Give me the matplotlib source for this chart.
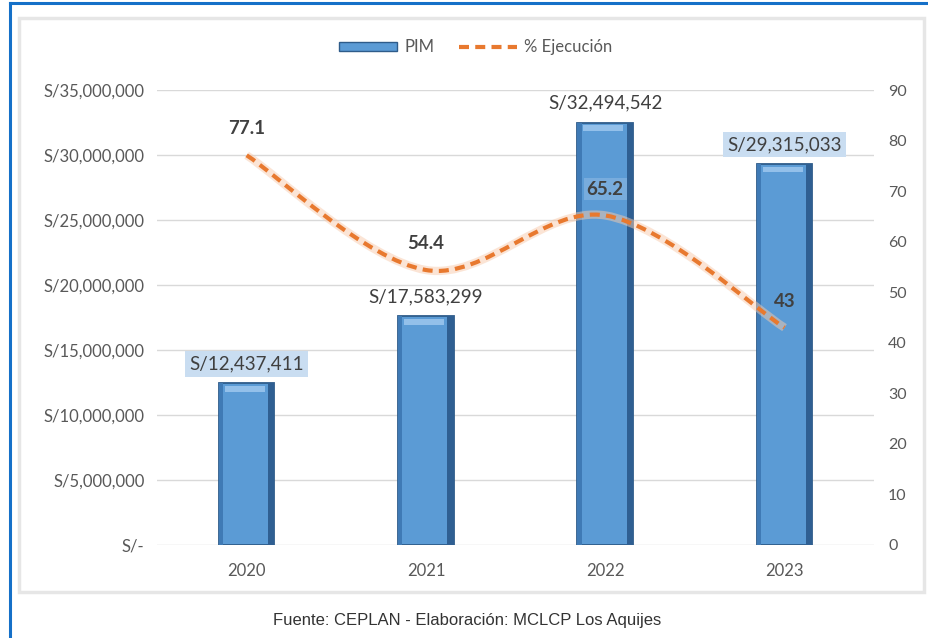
import numpy as np
import matplotlib
matplotlib.use('Agg')
import matplotlib.pyplot as plt
from matplotlib.path import Path
from matplotlib.patches import PathPatch, Rectangle, Patch
from matplotlib.lines import Line2D
from matplotlib.ticker import FuncFormatter

# datos
years = ['2020', '2021', '2022', '2023']
pim = [12437411, 17583299, 32494542, 29315033]
ejecucion = [77.1, 54.4, 65.2, 43]
pim_box = [True, False, False, True]   # etiquetas con fondo celeste

plt.rcParams['font.family'] = ['Lato', 'DejaVu Sans']

fig = plt.figure(figsize=(9.29, 6.38), dpi=100)
fig.patch.set_facecolor('white')

# marco azul (izquierda y arriba) y marco gris del grafico
fig.add_artist(Line2D([0.0113, 0.0113], [0, 0.996], transform=fig.transFigure, color='#1570C8', lw=2.2))
fig.add_artist(Line2D([0.0113, 1], [0.996, 0.996], transform=fig.transFigure, color='#1570C8', lw=2.2))
fig.add_artist(Rectangle((0.020, 0.072), 0.975, 0.900, transform=fig.transFigure,
                         facecolor='none', edgecolor='#E6E6E6', lw=2.5))

ax = fig.add_axes([0.169, 0.1458, 0.772, 0.713])
ax2 = ax.twinx()
ax.set_zorder(1)
ax2.set_zorder(2)
ax.patch.set_visible(False)
ax2.patch.set_visible(False)

x = np.arange(len(years))
w = 0.31
ax.bar(x, pim, width=w, color='#5B9BD5', edgecolor='#2E5C8A', linewidth=1.3, zorder=3)
# bisel: borde derecho oscuro, izquierdo un poco oscuro y brillo arriba
ax.bar(x + w/2 - 0.018, pim, width=0.036, color='#2F5F92', linewidth=0, zorder=3.1)
ax.bar(x - w/2 + 0.012, pim, width=0.024, color='#3F7AB5', linewidth=0, zorder=3.1)
ax.bar(x - 0.01, [450000]*4, bottom=[p - 650000 for p in pim], width=w*0.72,
       color='#93C0EA', linewidth=0, zorder=3.2)

ax.set_ylim(0, 35000000)
ax.set_yticks(np.arange(0, 35000001, 5000000))
ax.yaxis.set_major_formatter(FuncFormatter(lambda v, p: 'S/-' if v == 0 else 'S/{:,.0f}'.format(v)))
ax.set_xlim(-0.5, 3.5)
ax.set_xticks(x)
ax.set_xticklabels(years)
ax.grid(axis='y', color='#D9D9D9', lw=1, zorder=0)
ax.tick_params(length=0, colors='#595959', labelsize=12)
ax.tick_params(axis='x', pad=13)
ax.tick_params(axis='y', pad=9)
for s in ax.spines.values():
    s.set_visible(False)

for xi, v, box in zip(x, pim, pim_box):
    bb = dict(boxstyle='square,pad=0.22', facecolor='#C9DDF1', edgecolor='none') if box else None
    ax.annotate('S/{:,.0f}'.format(v), (xi, v), xytext=(0, 14), textcoords='offset points',
                ha='center', va='center', fontsize=13.5, color='#404040', bbox=bb, zorder=5)

# curva suavizada (como Excel) para % ejecucion
pts = np.column_stack([x, ejecucion]).astype(float)
ext = np.vstack([pts[0], pts, pts[-1]])
verts = [pts[0]]
codes = [Path.MOVETO]
for i in range(len(pts) - 1):
    p0, p1, p2, p3 = ext[i], ext[i+1], ext[i+2], ext[i+3]
    verts += [p1 + (p2 - p0) / 6, p2 - (p3 - p1) / 6, p2]
    codes += [Path.CURVE4] * 3
path = Path(verts, codes)
ax2.add_patch(PathPatch(path, facecolor='none', edgecolor='#F8CBAD', lw=6, alpha=0.5, zorder=3))
ax2.add_patch(PathPatch(path, facecolor='none', edgecolor='#E8792F', lw=3,
                        linestyle=(0, (2.4, 1.5)), zorder=4))

ax2.set_ylim(0, 90)
ax2.set_yticks(np.arange(0, 91, 10))
ax2.tick_params(length=0, colors='#595959', labelsize=11.5, pad=10)
for s in ax2.spines.values():
    s.set_visible(False)

for xi, v in zip(x, ejecucion):
    bb = dict(boxstyle='square,pad=0.15', facecolor='#8DB8E4', edgecolor='none', alpha=0.6) if xi == 2 else None
    ax2.annotate('{:g}'.format(v), (xi, v), xytext=(0, 19), textcoords='offset points',
                 ha='center', va='center', fontsize=13.5, fontweight='bold', color='#404040', bbox=bb)

handles = [Patch(facecolor='#5B9BD5', edgecolor='#2E5C8A'),
           Line2D([0], [0], color='#E8792F', lw=3, linestyle=(0, (2.4, 1.5)))]
fig.legend(handles, ['PIM', '% Ejecución'], loc='center', bbox_to_anchor=(0.512, 0.926),
           ncol=2, frameon=False, fontsize=12, labelcolor='#595959',
           handlelength=3.5, handleheight=0.5, columnspacing=1.5, handletextpad=0.4)

fig.text(0.503, 0.027, 'Fuente: CEPLAN - Elaboración: MCLCP Los Aquijes', ha='center', va='center',
         fontsize=12, color='#333333', family=['Liberation Sans', 'DejaVu Sans'])

fig.savefig('out.png', dpi=100)
